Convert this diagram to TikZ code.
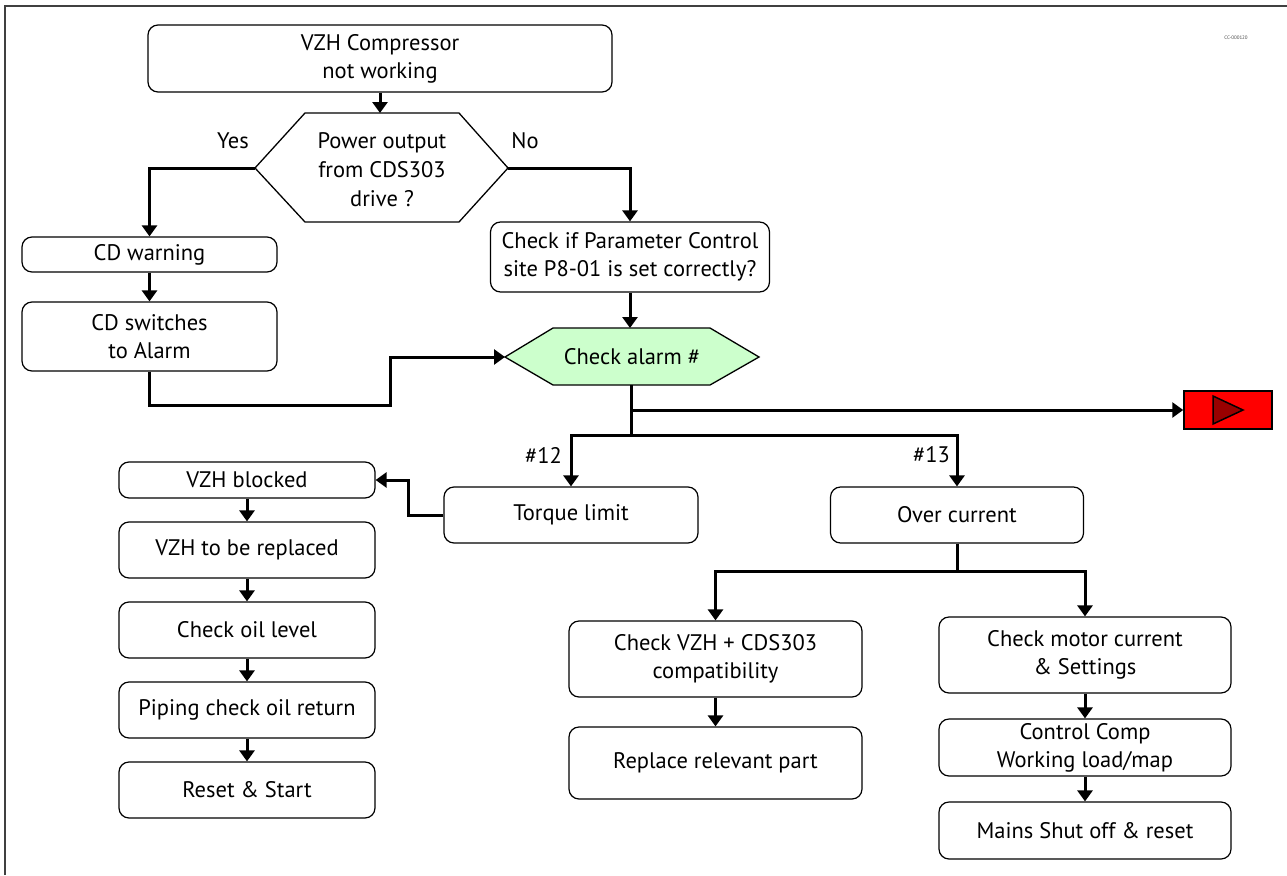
\documentclass[tikz,border=0pt]{standalone}
\usepackage{fontspec}
\setmainfont{PT Sans}
\usetikzlibrary{arrows.meta}
\definecolor{hexgreen}{RGB}{204,255,204}
\definecolor{tipred}{RGB}{153,0,0}
\begin{document}
\begin{tikzpicture}[x=1pt,y=-1pt,
  box/.style={draw, rounded corners=10pt, line width=1.2pt, align=center, inner sep=0pt,
              font=\fontsize{22.5}{28}\selectfont},
  hexline/.style={draw, line width=1.3pt},
  conn/.style={line width=3pt, -{Triangle[width=15pt,length=11pt]}},
  wire/.style={line width=3pt},
  lbl/.style={font=\fontsize{22.5}{28}\selectfont, inner sep=0pt}]
\useasboundingbox (0,0) rectangle (1287,875);
\fill[white] (0,0) rectangle (1287,875);
\draw[line width=1.5pt, black!75] (5,875) -- (5,6) -- (1287,6);
\node[font=\fontsize{5}{6}\selectfont, text=black!70] (tag) at (1236,38) {CC-000120};

% top
\node[box, minimum width=464pt, minimum height=67pt] (start) at (380,58.5) {VZH Compressor\\not working};

% decision hexagon
\coordinate (h1w) at (255,168);
\coordinate (h1e) at (508,168);
\coordinate (h1n) at (380,113);
\draw[hexline, fill=white] (h1w) -- (305,113) -- (459,113) -- (h1e) -- (459,222) -- (305,222) -- cycle;
\node[lbl, align=center, font=\fontsize{22.5}{29}\selectfont] (dec) at (382,170) {Power output\\from CDS303\\drive ?};
\node[lbl] (yes) at (233,141) {Yes};
\node[lbl] (no) at (525,141) {No};

% left branch
\node[box, minimum width=255pt, minimum height=35pt] (cdw) at (149.5,254.5) {CD warning};
\node[box, minimum width=255pt, minimum height=69pt] (cds) at (149.5,336.5) {CD switches\\to Alarm};

% right branch
\node[box, minimum width=279pt, minimum height=70pt] (param) at (630,257) {Check if Parameter Control\\site P8-01 is set correctly?};

% check alarm hexagon
\coordinate (h2w) at (505,357);
\coordinate (h2e) at (759,357);
\coordinate (h2n) at (630,328);
\coordinate (h2s) at (631,385);
\draw[hexline, fill=hexgreen] (h2w) -- (553,328) -- (710,328) -- (h2e) -- (710,385) -- (553,385) -- cycle;
\node[lbl] (alarm) at (632,357) {Check alarm \#};

% red box
\node[draw, line width=1.5pt, fill=red, minimum width=88pt, minimum height=38pt, inner sep=0pt] (red) at (1228,410) {};
\draw[line width=1.5pt, fill=tipred] ([shift={(-15,-14)}]red.center) -- ([shift={(-15,14)}]red.center) -- ([shift={(15,0)}]red.center) -- cycle;

\coordinate (j1) at (631,410);
\coordinate (j2) at (631,435);

% alarms
\node[box, minimum width=254pt, minimum height=56pt] (torque) at (571,515) {Torque limit};
\node[box, minimum width=253pt, minimum height=56pt] (over) at (957,515) {Over current};
\node[lbl, anchor=east] (l12) at (562,455) {\#12};
\node[lbl, anchor=east] (l13) at (950,455) {\#13};

% left column
\node[box, minimum width=256pt, minimum height=36pt] (blocked) at (247,480) {VZH blocked};
\node[box, minimum width=256pt, minimum height=56pt] (replaced) at (247,550) {VZH to be replaced};
\node[box, minimum width=256pt, minimum height=56pt] (oil) at (247,630) {Check oil level};
\node[box, minimum width=256pt, minimum height=56pt] (piping) at (247,710) {Piping check oil return};
\node[box, minimum width=256pt, minimum height=56pt] (reset) at (247,790) {Reset \& Start};

% over current branches
\coordinate (j3) at (957,571);
\node[box, minimum width=293pt, minimum height=76pt] (compat) at (715.5,659) {Check VZH + CDS303\\compatibility};
\node[box, minimum width=293pt, minimum height=72pt] (replace) at (715.5,763) {Replace relevant part};
\node[box, minimum width=292pt, minimum height=76pt] (motor) at (1085,655) {Check motor current\\\& Settings};
\node[box, minimum width=292pt, minimum height=57pt] (control) at (1085,747.5) {Control Comp\\Working load/map};
\node[box, minimum width=292pt, minimum height=57pt] (mains) at (1085,830.5) {Mains Shut off \& reset};

% connectors
\draw[conn] (start.south) -- (h1n);
\draw[conn] (h1w) -| (cdw.north);
\draw[conn] (h1e) -| (param.north);
\draw[conn] (cdw.south) -- (cds.north);
\draw[conn] (cds.south) |- (390,405) |- (h2w);
\draw[conn] (param.south) -- (h2n);
\draw[wire] (h2s) -- (j2);
\draw[conn] (j1) -- (red.west);
\draw[conn] (j2) -| (torque.north);
\draw[conn] (j2) -| (over.north);
\draw[conn] (torque.west) -- ++(-35,0) |- (blocked.east);
\draw[conn] (blocked.south) -- (replaced.north);
\draw[conn] (replaced.south) -- (oil.north);
\draw[conn] (oil.south) -- (piping.north);
\draw[conn] (piping.south) -- (reset.north);
\draw[wire] (over.south) -- (j3);
\draw[conn] (j3) -| (compat.north);
\draw[conn] (j3) -| (motor.north);
\draw[conn] (compat.south) -- (replace.north);
\draw[conn] (motor.south) -- (control.north);
\draw[conn] (control.south) -- (mains.north);
\end{tikzpicture}
\end{document}
